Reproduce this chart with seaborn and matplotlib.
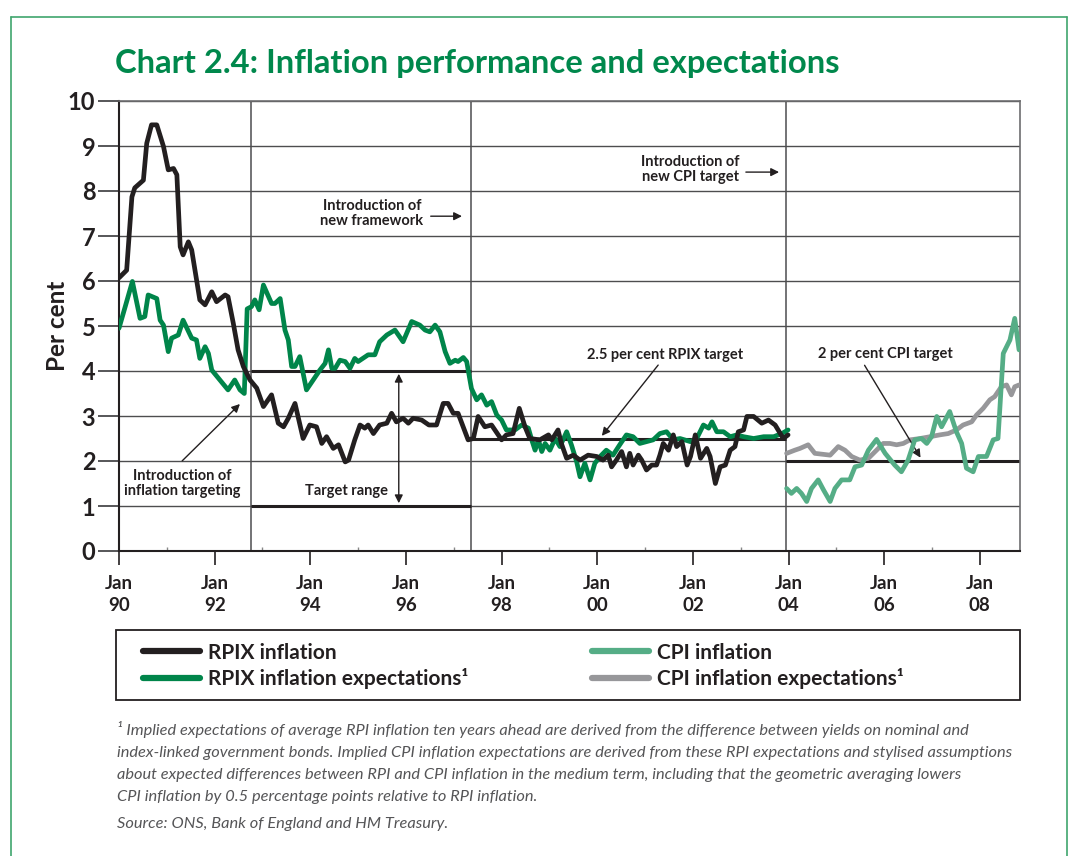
import numpy as np
import pandas as pd
import matplotlib
matplotlib.use("Agg")
import matplotlib.pyplot as plt
from matplotlib.lines import Line2D
from matplotlib.patches import Rectangle
import seaborn as sns

# RPIX inflation (decimal year, per cent)
rpix_t = [1990.00, 1990.16, 1990.27, 1990.33, 1990.51, 1990.58, 1990.68, 1990.79, 1990.93, 1991.03,
          1991.14, 1991.21, 1991.28, 1991.34, 1991.45, 1991.52, 1991.69, 1991.80, 1991.94, 1992.04,
          1992.22, 1992.28, 1992.39, 1992.49, 1992.60, 1992.74, 1992.88, 1993.02, 1993.19, 1993.33,
          1993.44, 1993.54, 1993.68, 1993.85, 1993.99, 1994.13, 1994.24, 1994.34, 1994.48, 1994.59,
          1994.73, 1994.80, 1994.93, 1995.04, 1995.14, 1995.21, 1995.32, 1995.45, 1995.60, 1995.70,
          1995.80, 1995.94, 1996.05, 1996.15, 1996.33, 1996.48, 1996.64, 1996.78, 1996.88, 1996.99,
          1997.09, 1997.30, 1997.41, 1997.51, 1997.65, 1997.79, 1998.00, 1998.10, 1998.24, 1998.37,
          1998.49, 1998.59, 1998.80, 1998.98, 1999.05, 1999.18, 1999.25, 1999.36, 1999.50, 1999.64,
          1999.81, 1999.99, 2000.12, 2000.23, 2000.30, 2000.40, 2000.51, 2000.61, 2000.68, 2000.75,
          2000.86, 2000.93, 2001.03, 2001.14, 2001.24, 2001.31, 2001.38, 2001.49, 2001.59, 2001.66,
          2001.77, 2001.88, 2001.95, 2002.05, 2002.16, 2002.29, 2002.36, 2002.47, 2002.57, 2002.68,
          2002.78, 2002.88, 2002.95, 2003.06, 2003.13, 2003.27, 2003.44, 2003.58, 2003.72, 2003.89,
          2003.99]
rpix_v = [6.07, 6.24, 7.87, 8.07, 8.24, 9.06, 9.47, 9.47, 8.99, 8.47,
          8.50, 8.36, 6.76, 6.58, 6.87, 6.69, 5.58, 5.47, 5.76, 5.54,
          5.69, 5.65, 5.06, 4.47, 4.10, 3.80, 3.62, 3.21, 3.47, 2.84,
          2.76, 2.95, 3.28, 2.50, 2.80, 2.76, 2.39, 2.54, 2.28, 2.36,
          1.98, 2.02, 2.47, 2.80, 2.73, 2.80, 2.61, 2.80, 2.84, 3.06,
          2.87, 2.95, 2.84, 2.95, 2.91, 2.80, 2.80, 3.28, 3.28, 3.06,
          3.06, 2.47, 2.50, 2.99, 2.76, 2.80, 2.47, 2.58, 2.61, 3.17,
          2.76, 2.50, 2.47, 2.58, 2.47, 2.69, 2.39, 2.06, 2.13, 2.02,
          2.13, 2.10, 2.02, 2.13, 1.87, 2.02, 2.21, 1.87, 2.17, 1.91,
          2.13, 2.02, 1.80, 1.91, 1.91, 2.13, 2.39, 2.24, 2.58, 2.32,
          2.43, 1.91, 2.10, 2.58, 2.06, 2.28, 2.10, 1.50, 1.87, 1.91,
          2.24, 2.32, 2.65, 2.69, 2.99, 2.99, 2.84, 2.91, 2.80, 2.50,
          2.58]

# RPIX inflation expectations
rpixe_t = [1990.00, 1990.13, 1990.28, 1990.44, 1990.54, 1990.61, 1990.79, 1990.86, 1990.93, 1991.03,
           1991.10, 1991.24, 1991.34, 1991.52, 1991.62, 1991.69, 1991.80, 1991.87, 1991.94, 1992.11,
           1992.28, 1992.42, 1992.53, 1992.62, 1992.68, 1992.77, 1992.84, 1992.93, 1993.02, 1993.19,
           1993.26, 1993.37, 1993.47, 1993.54, 1993.61, 1993.68, 1993.78, 1993.92, 1994.20, 1994.31,
           1994.38, 1994.45, 1994.52, 1994.62, 1994.73, 1994.83, 1994.93, 1995.00, 1995.21, 1995.35,
           1995.45, 1995.60, 1995.77, 1995.94, 1996.12, 1996.29, 1996.40, 1996.50, 1996.61, 1996.71,
           1996.82, 1996.92, 1997.03, 1997.09, 1997.20, 1997.27, 1997.37, 1997.48, 1997.58, 1997.69,
           1997.79, 1997.90, 1998.00, 1998.10, 1998.28, 1998.42, 1998.56, 1998.63, 1998.70, 1998.77,
           1998.84, 1998.91, 1999.01, 1999.12, 1999.22, 1999.36, 1999.46, 1999.57, 1999.64, 1999.74,
           1999.85, 1999.95, 2000.06, 2000.19, 2000.33, 2000.47, 2000.61, 2000.75, 2000.89, 2001.03,
           2001.17, 2001.31, 2001.45, 2001.59, 2001.73, 2001.95, 2002.08, 2002.22, 2002.33, 2002.40,
           2002.50, 2002.64, 2002.78, 2002.92, 2003.06, 2003.27, 2003.48, 2003.69, 2003.86, 2003.99]
rpixe_v = [4.95, 5.43, 5.99, 5.17, 5.21, 5.69, 5.61, 5.13, 5.02, 4.43,
           4.73, 4.80, 5.13, 4.73, 4.69, 4.28, 4.54, 4.39, 4.02, 3.80,
           3.58, 3.80, 3.58, 3.50, 5.38, 5.43, 5.58, 5.36, 5.91, 5.50,
           5.50, 5.61, 4.91, 4.69, 4.10, 4.10, 4.32, 3.58, 4.02, 4.17,
           4.47, 4.06, 4.06, 4.24, 4.21, 4.06, 4.28, 4.21, 4.36, 4.36,
           4.65, 4.80, 4.91, 4.65, 5.10, 5.02, 4.91, 4.87, 5.02, 4.87,
           4.43, 4.17, 4.24, 4.21, 4.30, 4.21, 3.61, 3.36, 3.47, 3.24,
           3.32, 3.02, 2.91, 2.69, 2.69, 2.80, 2.73, 2.47, 2.24, 2.47,
           2.21, 2.39, 2.24, 2.50, 2.32, 2.65, 2.36, 1.98, 1.65, 1.95,
           1.58, 1.95, 2.10, 2.24, 2.13, 2.36, 2.58, 2.54, 2.39, 2.43,
           2.47, 2.61, 2.65, 2.47, 2.50, 2.43, 2.50, 2.80, 2.73, 2.87,
           2.65, 2.65, 2.54, 2.58, 2.54, 2.50, 2.54, 2.54, 2.61, 2.69]

# CPI inflation
cpi_t = [2003.96, 2004.06, 2004.17, 2004.27, 2004.38, 2004.48, 2004.62, 2004.73, 2004.87, 2004.97,
         2005.11, 2005.28, 2005.39, 2005.53, 2005.67, 2005.84, 2006.02, 2006.22, 2006.36, 2006.50,
         2006.64, 2006.78, 2006.89, 2006.99, 2007.10, 2007.20, 2007.37, 2007.51, 2007.62, 2007.72,
         2007.86, 2007.97, 2008.14, 2008.28, 2008.38, 2008.49, 2008.63, 2008.73, 2008.82]
cpi_v = [1.39, 1.28, 1.39, 1.28, 1.10, 1.39, 1.58, 1.36, 1.10, 1.39,
         1.58, 1.58, 1.87, 1.91, 2.24, 2.48, 2.17, 1.91, 1.76, 2.02,
         2.47, 2.50, 2.39, 2.54, 2.99, 2.76, 3.10, 2.65, 2.39, 1.84,
         1.76, 2.10, 2.10, 2.47, 2.50, 4.39, 4.69, 5.17, 4.47]

# CPI inflation expectations
cpie_t = [2003.96, 2004.13, 2004.24, 2004.41, 2004.55, 2004.87, 2005.04, 2005.18, 2005.32, 2005.49,
          2005.67, 2005.84, 2005.98, 2006.12, 2006.26, 2006.40, 2006.54, 2006.75, 2006.96, 2007.16,
          2007.34, 2007.51, 2007.65, 2007.83, 2007.93, 2008.07, 2008.21, 2008.31, 2008.45, 2008.56,
          2008.66, 2008.73, 2008.82]
cpie_v = [2.17, 2.24, 2.28, 2.36, 2.17, 2.13, 2.32, 2.24, 2.10, 2.02,
          2.06, 2.24, 2.39, 2.39, 2.36, 2.39, 2.47, 2.50, 2.54, 2.58,
          2.61, 2.69, 2.80, 2.87, 3.02, 3.17, 3.36, 3.43, 3.65, 3.69,
          3.47, 3.65, 3.69]

# regime changes and targets
regime_starts = [1992.75, 1997.35, 2003.95]
target_end = 2008.84
year_ticks = list(range(1990, 2009, 2))
year_labels = ["Jan\n" + str(y)[2:] for y in year_ticks]

BLACK = "#231f20"
GREEN = "#00854a"
LIGHT_GREEN = "#55ad86"
GREY = "#97979a"
TEXT = "#231f20"

sns.set_style("white")
plt.rcParams["font.family"] = ["Lato", "DejaVu Sans"]

fig = plt.figure(figsize=(10.71, 8.56), dpi=100)
ax = fig.add_axes([119 / 1071, 1 - 551 / 856, (1020 - 119) / 1071, 450 / 856])

# grid and regime lines
for v in range(1, 11):
    ax.axhline(v, color="#4d4d4f", lw=1.0, zorder=1)
for r in regime_starts:
    ax.axvline(r, color="#4d4d4f", lw=1.1, zorder=1)

# target lines
ax.hlines([4, 1], regime_starts[0], regime_starts[1], color=BLACK, lw=2.2, zorder=2)
ax.hlines(2.5, regime_starts[1], regime_starts[2], color=BLACK, lw=2.2, zorder=2)
ax.hlines(2.0, regime_starts[2], target_end, color=BLACK, lw=2.2, zorder=2)

sns.lineplot(x=rpixe_t, y=rpixe_v, ax=ax, color=GREEN, lw=3.4, zorder=3)
sns.lineplot(x=rpix_t, y=rpix_v, ax=ax, color=BLACK, lw=3.4, zorder=4)
sns.lineplot(x=cpie_t, y=cpie_v, ax=ax, color=GREY, lw=3.4, zorder=3)
sns.lineplot(x=cpi_t, y=cpi_v, ax=ax, color=LIGHT_GREEN, lw=3.4, zorder=4)

ax.set_xlim(1990, target_end)
ax.set_ylim(0, 10)
ax.set_yticks(range(0, 11))
ax.set_yticklabels([str(v) for v in range(0, 11)], fontsize=17, fontweight="bold", color=TEXT)
ax.set_xticks(year_ticks)
ax.set_xticklabels(year_labels, fontsize=13.5, fontweight="bold", color=TEXT, linespacing=1.35)
ax.set_xticks(range(1991, 2009, 2), minor=True)
ax.tick_params(axis="y", direction="out", length=15, width=1.2, color="#3a3a3c", left=True, pad=2)
ax.tick_params(axis="x", which="major", direction="out", length=10, width=1.2, color=BLACK,
               bottom=True, pad=7)
ax.tick_params(axis="x", which="minor", direction="in", length=3, width=1, color="#888888", bottom=True)
ax.set_ylabel("Per cent", fontsize=17.5, fontweight="bold", color=TEXT)
ax.yaxis.set_label_coords(-0.055, 0.5)
ax.set_xlabel("")

for side in ["top", "right"]:
    ax.spines[side].set_color("#6d6d6f")
    ax.spines[side].set_linewidth(1.2)
for side in ["left", "bottom"]:
    ax.spines[side].set_color(BLACK)
    ax.spines[side].set_linewidth(1.5)

# annotations
ann = dict(fontsize=10.5, fontweight="bold", color=TEXT, ha="center", va="center", linespacing=1.1)
arr = dict(arrowstyle="-|>", color=BLACK, lw=1.0, mutation_scale=12)
ax.text(1995.29, 7.51, "Introduction of\nnew framework", **ann)
ax.annotate("", xy=(1997.23, 7.44), xytext=(1996.46, 7.44), arrowprops=arr)
ax.text(2001.94, 8.47, "Introduction of\nnew CPI target", **ann)
ax.annotate("", xy=(2003.86, 8.42), xytext=(2003.05, 8.42), arrowprops=arr)
ax.text(2001.42, 4.36, "2.5 per cent RPIX target", **ann)
ax.annotate("", xy=(2000.06, 2.51), xytext=(2001.31, 4.18), arrowprops=arr)
ax.text(2006.02, 4.38, "2 per cent CPI target", **ann)
ax.annotate("", xy=(2006.79, 2.02), xytext=(2005.56, 4.18), arrowprops=arr)
ax.text(1991.32, 1.49, "Introduction of\ninflation targeting", **ann)
ax.annotate("", xy=(1992.57, 3.31), xytext=(1991.28, 1.96), arrowprops=arr)
ax.text(1994.75, 1.33, "Target range", **ann)
ax.annotate("", xy=(1995.85, 4.0), xytext=(1995.85, 1.0),
            arrowprops=dict(arrowstyle="<|-|>", color=BLACK, lw=1.0, mutation_scale=12))

# title
fig.text(115 / 1071, 1 - 63 / 856, "Chart 2.4: Inflation performance and expectations",
         fontsize=23.6, fontweight="bold", color="#00884c", ha="left", va="center")

# legend box
fig.patches.append(Rectangle((116 / 1071, 1 - 700 / 856), (1020 - 116) / 1071, 70 / 856,
                             transform=fig.transFigure, fill=False, edgecolor=BLACK, lw=1.3))
handles = [Line2D([], [], color=BLACK, lw=4.5), Line2D([], [], color=GREEN, lw=4.5),
           Line2D([], [], color=LIGHT_GREEN, lw=4.5), Line2D([], [], color=GREY, lw=4.5)]
labels = ["RPIX inflation", "RPIX inflation expectations\u00b9",
          "CPI inflation", "CPI inflation expectations\u00b9"]
leg = fig.legend(handles, labels, ncol=2, loc="upper left", frameon=False,
                 bbox_to_anchor=(124 / 1071, 1 - 624 / 856), handlelength=2.75, handletextpad=0.4,
                 columnspacing=5.9, labelspacing=0.25,
                 prop={"size": 15, "weight": "bold", "family": ["Lato", "DejaVu Sans"]})
for t in leg.get_texts():
    t.set_color(TEXT)

# footnote
notes = [
    "\u00b9 Implied expectations of average RPI inflation ten years ahead are derived from the difference between yields on nominal and",
    "index-linked government bonds. Implied CPI inflation expectations are derived from these RPI expectations and stylised assumptions",
    "about expected differences between RPI and CPI inflation in the medium term, including that the geometric averaging lowers",
    "CPI inflation by 0.5 percentage points relative to RPI inflation.",
]
for i, line in enumerate(notes):
    fig.text(117 / 1071, 1 - (730 + 22.5 * i) / 856, line, fontsize=11.8, style="italic",
             color="#555557", ha="left", va="center")
fig.text(117 / 1071, 1 - 824 / 856, "Source: ONS, Bank of England and HM Treasury.", fontsize=11.8,
         style="italic", color="#555557", ha="left", va="center")

# outer green frame (open at the bottom)
frame = dict(color="#3fa56d", lw=1.2, transform=fig.transFigure)
fig.add_artist(Line2D([11 / 1071, 11 / 1071], [0, 1 - 17 / 856], **frame))
fig.add_artist(Line2D([11 / 1071, 1067 / 1071], [1 - 17 / 856, 1 - 17 / 856], **frame))
fig.add_artist(Line2D([1067 / 1071, 1067 / 1071], [0, 1 - 17 / 856], **frame))

fig.savefig("out.png", dpi=100)
